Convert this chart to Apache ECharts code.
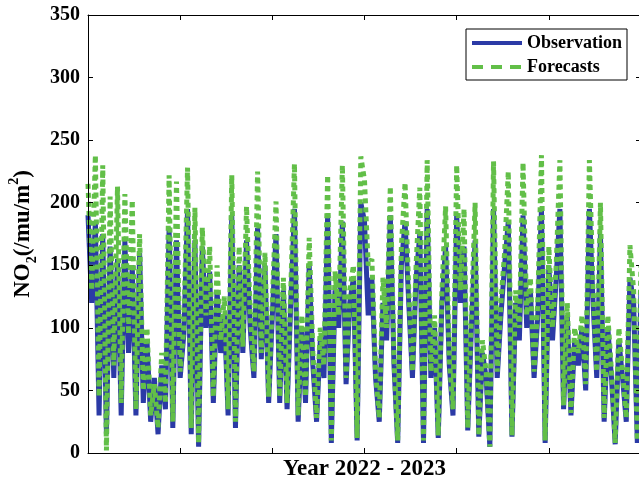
<!DOCTYPE html>
<html>
<head>
<meta charset="utf-8">
<script src="https://cdn.jsdelivr.net/npm/echarts@6/dist/echarts.min.js"></script>
<style>
  html, body { margin: 0; padding: 0; background: #fff; }
  #chart { width: 639px; height: 487px; }
</style>
</head>
<body>
<div id="chart"></div>
<script>
// samples over 2022 - 2023
var observation = [
  190, 120, 185, 30, 175, 15, 165, 60, 155, 30, 170, 80, 150, 30, 160, 40, 90, 25, 60, 15, 70, 35, 180, 20, 170,
  60, 95, 195, 15, 170, 5, 165, 100, 145, 40, 130, 80, 110, 30, 190, 20, 150, 80, 170, 100, 60, 180, 75, 150, 40,
  110, 175, 40, 130, 35, 120, 195, 25, 100, 40, 150, 70, 25, 90, 60, 190, 8, 130, 100, 185, 55, 120, 140, 10, 200,
  185, 110, 140, 60, 25, 120, 90, 190, 70, 8, 150, 185, 120, 60, 140, 175, 8, 195, 60, 100, 12, 120, 165, 70, 30,
  190, 120, 165, 18, 100, 170, 13, 80, 60, 5, 195, 60, 110, 150, 185, 13, 120, 90, 190, 100, 130, 60, 110, 195, 8,
  150, 90, 140, 195, 35, 110, 30, 90, 70, 100, 50, 195, 120, 60, 175, 25, 100, 60, 7, 90, 60, 25, 140, 120, 8, 130
];
var forecasts = [
  215, 130, 238, 45, 230, 2, 205, 70, 213, 40, 207, 95, 202, 35, 175, 50, 100, 30, 55, 20, 80, 40, 222, 25, 217,
  65, 100, 228, 20, 196, 8, 180, 110, 165, 45, 150, 90, 125, 35, 222, 25, 165, 85, 197, 110, 65, 225, 80, 160, 45,
  120, 201, 45, 140, 40, 130, 231, 30, 110, 45, 172, 80, 28, 100, 70, 222, 10, 145, 110, 230, 60, 130, 150, 12, 237,
  218, 150, 155, 65, 28, 140, 100, 213, 75, 10, 165, 216, 130, 65, 150, 212, 10, 234, 65, 110, 14, 130, 197, 75, 35,
  230, 130, 195, 20, 110, 200, 14, 90, 65, 5, 233, 65, 120, 160, 225, 14, 130, 100, 232, 110, 140, 65, 120, 238, 10,
  165, 100, 150, 234, 38, 120, 32, 100, 80, 110, 55, 234, 130, 65, 200, 28, 110, 65, 8, 100, 65, 28, 166, 130, 10, 150
];
var days = observation.map(function (v, i) { return String(i); });
var yTicks = { min: 0, max: 350, step: 50 };

var chart = echarts.init(document.getElementById('chart'));

var serif = 'Liberation Serif, Times New Roman, serif';

var xBase = {
  type: 'category',
  data: days,
  boundaryGap: false,
  z: 10,
  axisLine: { show: true, onZero: false, lineStyle: { color: '#000', width: 1 } },
  axisTick: { show: true, inside: true, length: 5, interval: 24, lineStyle: { color: '#000' } },
  axisLabel: { show: false, interval: 24 },
  splitLine: { show: false }
};
var yBase = {
  type: 'value',
  min: yTicks.min,
  max: yTicks.max,
  interval: yTicks.step,
  z: 10,
  axisLine: { show: true, onZero: false, lineStyle: { color: '#000', width: 1 } },
  axisTick: { show: true, inside: true, length: 5, lineStyle: { color: '#000' } },
  splitLine: { show: false }
};

chart.setOption({
  animation: false,
  backgroundColor: '#fff',
  grid: { left: 88, right: -2, top: 15, bottom: 34, containLabel: false, outerBoundsMode: 'none' },
  legend: {
    data: [
      { name: 'Observation' },
      { name: 'Forecasts', lineStyle: { type: [11, 8] } }
    ],
    orient: 'vertical',
    left: 466,
    top: 29,
    itemWidth: 50,
    itemHeight: 12,
    itemGap: 6,
    padding: [5, 5, 4, 4],
    borderColor: '#000',
    borderWidth: 1,
    backgroundColor: '#fff',
    itemStyle: { opacity: 0 },
    lineStyle: { width: 4 },
    textStyle: { fontFamily: serif, fontWeight: 'bold', fontSize: 18, color: '#000', padding: [0, 0, 0, 0] }
  },
  xAxis: [
    Object.assign({}, xBase, {
      position: 'bottom',
      name: 'Year 2022 - 2023',
      nameLocation: 'middle',
      nameGap: 5,
      nameTextStyle: { fontFamily: serif, fontWeight: 'bold', fontSize: 23, color: '#000', verticalAlign: 'top' }
    }),
    Object.assign({}, xBase, { position: 'top' })
  ],
  yAxis: [
    Object.assign({}, yBase, {
      position: 'left',
      axisLabel: { fontFamily: serif, fontWeight: 'bold', fontSize: 20, color: '#000', margin: 8 },
      name: '{b|NO}{s|2}{b|(/mu/m}{p|2}{b|)}',
      nameLocation: 'middle',
      nameGap: 49,
      nameTextStyle: {
        rich: {
          b: { fontFamily: serif, fontWeight: 'bold', fontSize: 23, color: '#000', lineHeight: 32 },
          s: { fontFamily: serif, fontWeight: 'bold', fontSize: 14, color: '#000', lineHeight: 14, verticalAlign: 'bottom' },
          p: { fontFamily: serif, fontWeight: 'bold', fontSize: 14, color: '#000', lineHeight: 14, verticalAlign: 'top' }
        }
      }
    }),
    Object.assign({}, yBase, { position: 'right', axisLabel: { show: false } })
  ],
  series: [
    {
      name: 'Observation',
      type: 'line',
      data: observation,
      symbol: 'none',
      lineStyle: { color: '#2b3aa6', width: 5 },
      itemStyle: { color: '#2b3aa6' },
      z: 2
    },
    {
      name: 'Forecasts',
      type: 'line',
      data: forecasts,
      symbol: 'none',
      lineStyle: { color: '#62bf48', width: 5, type: [5, 4] },
      itemStyle: { color: '#62bf48' },
      z: 3
    }
  ]
});
</script>
</body>
</html>
